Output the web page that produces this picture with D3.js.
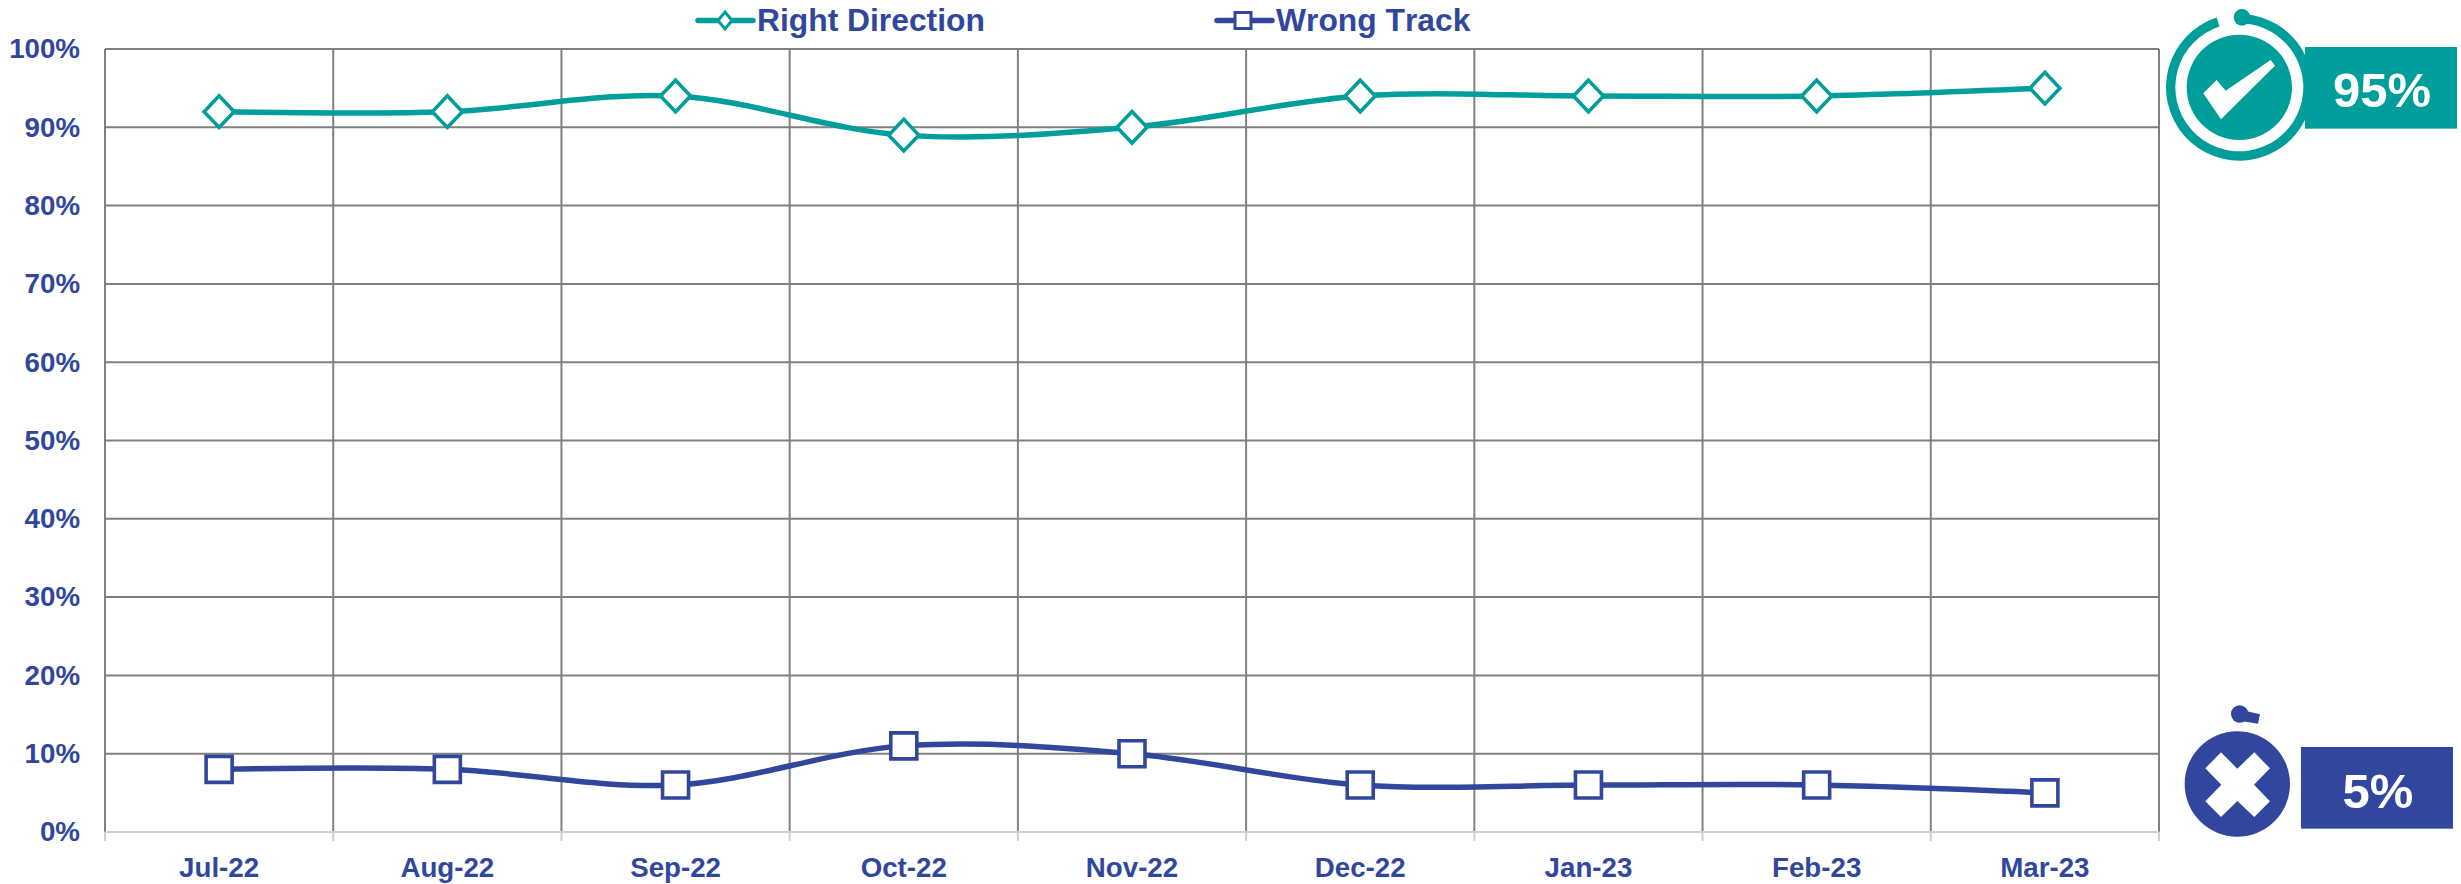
<!DOCTYPE html>
<html><head><meta charset="utf-8">
<script src="https://cdn.jsdelivr.net/npm/d3@7"></script>
<style>html,body{margin:0;padding:0;background:#fff}svg{display:block}text{font-family:"Liberation Sans",Arial,sans-serif;font-weight:bold}</style>
</head><body><svg id="c" width="2461" height="884"></svg>
<script>
const categories=["Jul-22","Aug-22","Sep-22","Oct-22","Nov-22","Dec-22","Jan-23","Feb-23","Mar-23"];
const rightDirection=[92,92,94,89,90,94,94,94,95];
const wrongTrack=[8,8,6,11,10,6,6,6,5];
const yTicks=[0,10,20,30,40,50,60,70,80,90,100];
const seriesNames=["Right Direction","Wrong Track"];
const latest=["95%","5%"];
const TEAL="#009e9a",BLUE="#31479e",GRID="#808080",AXIS="#d0d0d0";
const svg=d3.select("#c");
const L=105,R=2159,T=49,B=832;
const x=d3.scaleBand().domain(categories).range([L,R]);
const y=d3.scaleLinear().domain([0,100]).range([B,T]);
const cx=d=>x(d)+x.bandwidth()/2;

// gridlines
const g=svg.append("g");
g.selectAll(".h").data(yTicks.filter(d=>d>0)).join("line").attr("x1",L).attr("x2",R)
 .attr("y1",d=>y(d)).attr("y2",d=>y(d)).attr("stroke",GRID).attr("stroke-width",2);
const vx=categories.map(d=>x(d)).concat([R]);
g.selectAll(".v").data(vx).join("line").attr("x1",d=>d).attr("x2",d=>d)
 .attr("y1",T).attr("y2",B).attr("stroke",GRID).attr("stroke-width",2);
// bottom axis
g.append("line").attr("x1",L).attr("x2",R).attr("y1",B).attr("y2",B).attr("stroke",AXIS).attr("stroke-width",2);
g.selectAll(".t").data(vx).join("line").attr("x1",d=>d).attr("x2",d=>d)
 .attr("y1",B).attr("y2",B+9).attr("stroke",AXIS).attr("stroke-width",2);

// axis labels
const ax=svg.append("g").attr("transform",`translate(${L},0)`)
 .call(d3.axisLeft(y).tickValues(yTicks).tickFormat(d=>d+"%").tickSize(0).tickPadding(25));
const bx=svg.append("g").attr("transform",`translate(0,${B})`)
 .call(d3.axisBottom(x).tickSize(0).tickPadding(25));
ax.select(".domain").remove();bx.select(".domain").remove();
svg.selectAll(".tick text").attr("fill",BLUE).attr("font-size",27.7).style("font-family",'"Liberation Sans"').style("font-weight","bold");

const line=d3.line().x((d,i)=>cx(categories[i])).y(d=>y(d)).curve(d3.curveCardinal.tension(0));
function series(vals,color,shape){
 svg.append("path").datum(vals).attr("d",line).attr("fill","none").attr("stroke",color).attr("stroke-width",5.5);
 const m=svg.append("g").selectAll("path").data(vals).join("path")
  .attr("transform",(d,i)=>`translate(${cx(categories[i])},${y(d)})`)
  .attr("fill","#fff").attr("stroke",color).attr("stroke-width",3.6).attr("stroke-linejoin","miter");
 m.attr("d",shape);
}
series(rightDirection,TEAL,"M0-15.8L15 0L0 15.8L-15 0Z");
series(wrongTrack,BLUE,"M-13-13H13V13H-13Z");

// legend
const leg=svg.append("g");
const legendItems=[{n:seriesNames[0],c:TEAL,x1:698,x2:753,mx:725,tx:757,s:"M0-8.5L7 0L0 8.5L-7 0Z"},
 {n:seriesNames[1],c:BLUE,x1:1217,x2:1272,mx:1243,tx:1276,s:"M-8-8H8V8H-8Z"}];
legendItems.forEach(d=>{
 leg.append("line").attr("x1",d.x1).attr("x2",d.x2).attr("y1",20.5).attr("y2",20.5).attr("stroke",d.c).attr("stroke-width",5.5).attr("stroke-linecap","round");
 leg.append("path").attr("d",d.s).attr("transform",`translate(${d.mx},20.5)`).attr("fill","#fff").attr("stroke",d.c).attr("stroke-width",3);
 leg.append("text").attr("x",d.tx).attr("y",30.5).attr("font-size",31.8).style("font-kerning","none").attr("fill",BLUE).text(d.n);
});

// right badges
const b1=svg.append("g").attr("transform","translate(2120,0) scale(0.3333)");
const ccx=358,ccy=262;
b1.append("path").attr("transform",`translate(${ccx},${ccy})`)
 .attr("d",d3.arc().innerRadius(192).outerRadius(220).startAngle(2*Math.PI/180).endAngle(342*Math.PI/180)()).attr("fill",TEAL);
b1.append("circle").attr("cx",366).attr("cy",52).attr("r",25).attr("fill",TEAL);
b1.append("circle").attr("cx",ccx).attr("cy",ccy).attr("r",158).attr("fill",TEAL);
b1.append("path").attr("d","M250,280L290,240L317,272L452,180L465,197L303,358Z").attr("fill","#fff");
b1.append("rect").attr("x",555).attr("y",141).attr("width",456).attr("height",245).attr("fill",TEAL);
svg.append("text").attr("x",2382).attr("y",107).attr("text-anchor","middle").attr("font-size",49).attr("fill","#fff").text(latest[0]);

const b2=svg.append("g").attr("transform","translate(2120,690) scale(0.3333)");
b2.append("circle").attr("cx",352).attr("cy",282).attr("r",158).attr("fill",BLUE);
b2.append("path").attr("d","M256,235L303,187L352,236L403,187L450,235L402,284L450,334L403,381L352,333L303,381L256,334L304,284Z").attr("fill","#fff");
b2.append("circle").attr("cx",359).attr("cy",72).attr("r",26).attr("fill",BLUE);
b2.append("path").attr("d","M375,62L420,73L414,101L368,94Z").attr("fill",BLUE);
b2.append("rect").attr("x",543).attr("y",171).attr("width",456).attr("height",245).attr("fill",BLUE);
svg.append("text").attr("x",2378).attr("y",808).attr("text-anchor","middle").attr("font-size",49).attr("fill","#fff").text(latest[1]);
</script></body></html>
